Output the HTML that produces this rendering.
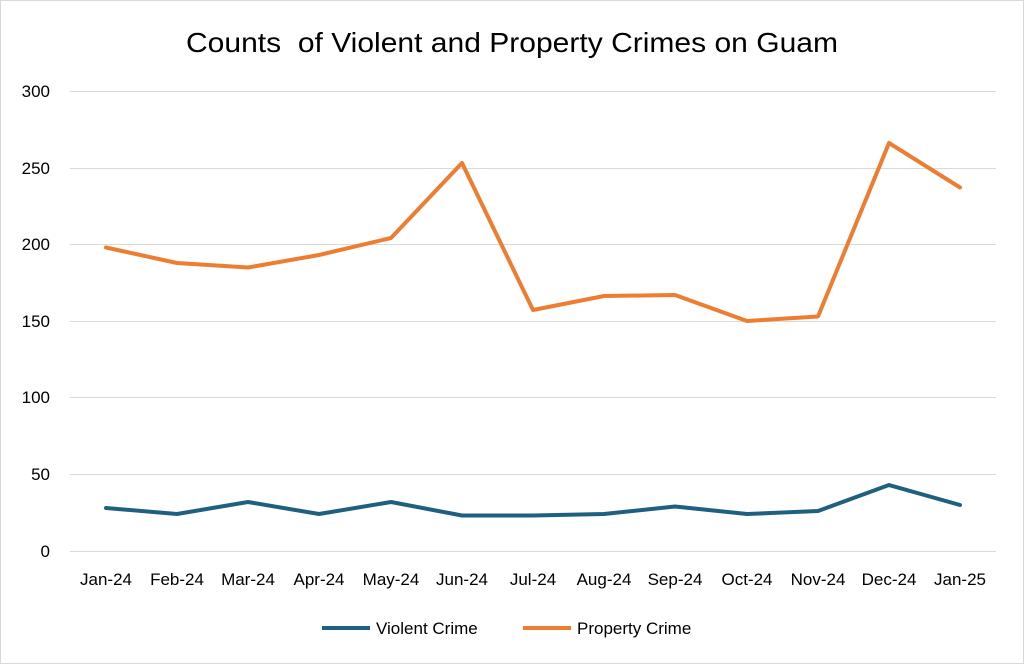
<!DOCTYPE html>
<html><head><style>
body{margin:0;background:#fff;}
svg{display:block;}
text{font-family:"Liberation Sans",sans-serif;fill:#000;}
</style></head><body>
<svg width="1024" height="664" viewBox="0 0 1024 664" xmlns="http://www.w3.org/2000/svg">
<rect x="0.5" y="0.5" width="1023" height="663" fill="#fff" stroke="#d9d9d9"/>
<text x="186" y="52" font-size="28" textLength="652" lengthAdjust="spacingAndGlyphs" xml:space="preserve">Counts  of Violent and Property Crimes on Guam</text>
<g stroke="#d9d9d9" stroke-width="1">
<line x1="70" x2="996" y1="91.5" y2="91.5"/>
<line x1="70" x2="996" y1="168.5" y2="168.5"/>
<line x1="70" x2="996" y1="244.5" y2="244.5"/>
<line x1="70" x2="996" y1="321.5" y2="321.5"/>
<line x1="70" x2="996" y1="397.5" y2="397.5"/>
<line x1="70" x2="996" y1="474.5" y2="474.5"/>
<line x1="70" x2="996" y1="551.5" y2="551.5"/>
</g>
<g font-size="17" text-anchor="end">
<text x="50" y="97">300</text><text x="50" y="174">250</text><text x="50" y="250">200</text>
<text x="50" y="327">150</text><text x="50" y="403">100</text><text x="50" y="480">50</text><text x="50" y="557">0</text>
</g>
<g font-size="17" text-anchor="middle">
<text x="106" y="585">Jan-24</text><text x="177" y="585">Feb-24</text><text x="248" y="585">Mar-24</text>
<text x="319" y="585">Apr-24</text><text x="391" y="585">May-24</text><text x="462" y="585">Jun-24</text>
<text x="533" y="585">Jul-24</text><text x="604" y="585">Aug-24</text><text x="675" y="585">Sep-24</text>
<text x="747" y="585">Oct-24</text><text x="818" y="585">Nov-24</text><text x="889" y="585">Dec-24</text>
<text x="960" y="585">Jan-25</text>
</g>
<polyline fill="none" stroke="#ed7d31" stroke-width="4" stroke-linejoin="round" stroke-linecap="round"
points="106,247.5 177,263 248,267.5 319,255 391,238 462,163 533,310 604,296 675,295 747,321 818,316.5 889,143 960,187.5"/>
<polyline fill="none" stroke="#1f5f80" stroke-width="4" stroke-linejoin="round" stroke-linecap="round"
points="106,508 177,514 248,502 319,514 391,502 462,515.5 533,515.5 604,514 675,506.5 747,514 818,511 889,485 960,505"/>
<line x1="322" x2="370" y1="628" y2="628" stroke="#1f5f80" stroke-width="4"/>
<text x="376" y="634" font-size="17">Violent Crime</text>
<line x1="523" x2="571" y1="628" y2="628" stroke="#ed7d31" stroke-width="4"/>
<text x="577" y="634" font-size="17">Property Crime</text>
</svg>
</body></html>
